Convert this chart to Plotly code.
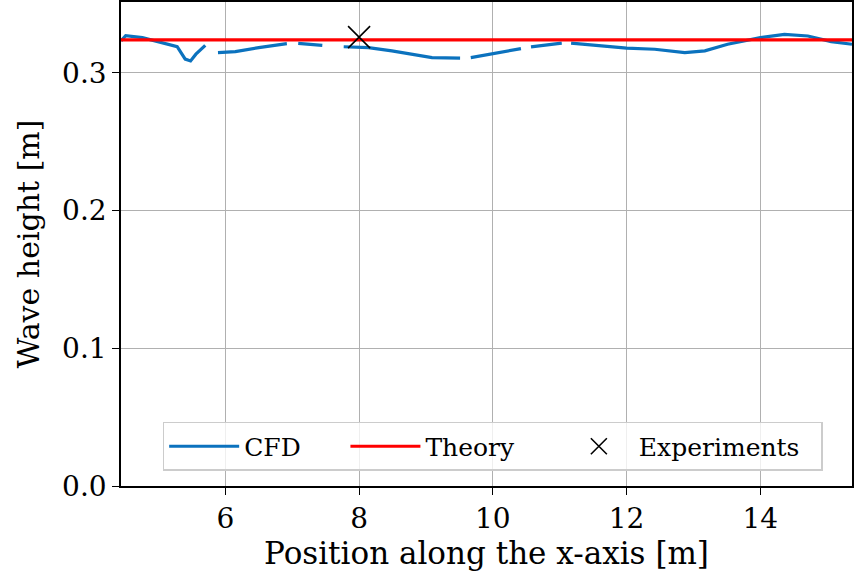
import plotly.graph_objects as go

# CFD wave height along the tank (None = gaps in the data)
cfd_x = [4.44, 4.51, 4.76, 5.00, 5.28, 5.40, 5.48, 5.56, 5.70, None,
         5.89, 6.15, 6.50, 6.92, None,
         7.09, 7.45, None,
         7.77, 8.14, 8.49, 8.74, 9.09, 9.51, None,
         9.67, 9.98, 10.42, None,
         10.57, 11.03, None,
         11.17, 11.57, 12.00, 12.42, 12.87, 13.17, 13.51, 14.00, 14.36, 14.71, 15.06, 15.37]
cfd_y = [0.3233, 0.3270, 0.3256, 0.3227, 0.3190, 0.3100, 0.3087, 0.3136, 0.3200, None,
         0.3148, 0.3155, 0.3184, 0.3213, None,
         0.3214, 0.3200, None,
         0.3190, 0.3184, 0.3160, 0.3140, 0.3111, 0.3107, None,
         0.3111, 0.3136, 0.3176, None,
         0.3189, 0.3216, None,
         0.3216, 0.3201, 0.3180, 0.3172, 0.3148, 0.3160, 0.3208, 0.3256, 0.3280, 0.3268, 0.3227, 0.3208]

theory_x = [4.44, 15.37]
theory_y = [0.324, 0.324]

exp_x = [8.0]
exp_y = [0.326]

font = "DejaVu Serif"
pad = "\u00a0"

fig = go.Figure()
fig.add_trace(go.Scatter(x=cfd_x, y=cfd_y, mode="lines", name="CFD" + pad * 5,
                         line=dict(color="#0b72be", width=3.2), connectgaps=False))
fig.add_trace(go.Scatter(x=theory_x, y=theory_y, mode="lines", name="Theory" + pad * 5,
                         line=dict(color="#ff0000", width=3.2)))
fig.add_trace(go.Scatter(x=exp_x, y=exp_y, mode="markers", name="Experiments" + pad * 2,
                         marker=dict(symbol="x-thin", size=22, color="black",
                                     line=dict(color="black", width=1.6))))

fig.update_layout(
    width=854, height=573,
    margin=dict(l=121, r=0, t=2, b=87),
    paper_bgcolor="white", plot_bgcolor="white",
    font=dict(family=font, size=25, color="black"),
    showlegend=True,
    legend=dict(orientation="h", x=0.057, y=0.031, xanchor="left", yanchor="bottom",
                bgcolor="rgba(255,255,255,0.8)", bordercolor="#cccccc", borderwidth=1.5,
                font=dict(family=font, size=25), itemwidth=70),
)
fig.update_xaxes(range=[4.44, 15.37], tickvals=[6, 8, 10, 12, 14],
                 ticktext=["6", "8", "10", "12", "14"],
                 showgrid=True, gridcolor="#b0b0b0", gridwidth=1,
                 showline=True, linecolor="black", linewidth=1.5, mirror=True,
                 ticks="outside", ticklen=7, tickwidth=1.2, tickcolor="black",
                 title=dict(text="Position along the x-axis [m]", font=dict(size=31), standoff=6),
                 tickfont=dict(size=28), zeroline=False)
fig.update_yaxes(range=[0, 0.3515], tickvals=[0.0, 0.1, 0.2, 0.3],
                 ticktext=["0.0", "0.1", "0.2", "0.3"],
                 showgrid=True, gridcolor="#b0b0b0", gridwidth=1,
                 showline=True, linecolor="black", linewidth=1.5, mirror=True,
                 ticks="outside", ticklen=7, tickwidth=1.2, tickcolor="black",
                 title=dict(text="Wave height [m]", font=dict(size=30), standoff=14),
                 tickfont=dict(size=28), zeroline=False)

fig.write_html("out.html", config={"displayModeBar": False},
               post_script="document.body.style.margin='0';document.body.style.padding='0';")
